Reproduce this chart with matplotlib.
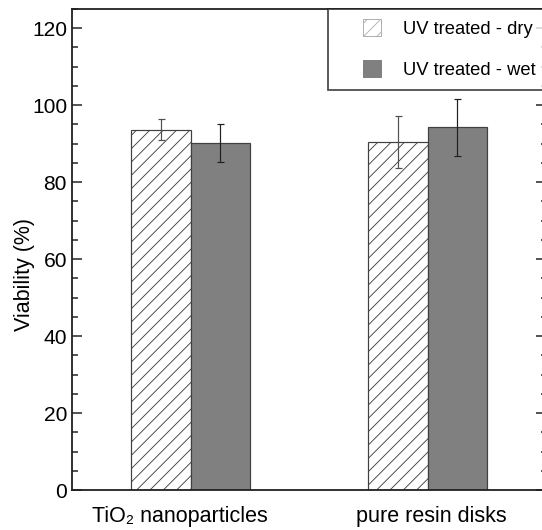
import matplotlib
matplotlib.use("Agg")
import matplotlib.pyplot as plt
from matplotlib.patches import Patch, Rectangle
from matplotlib.legend_handler import HandlerPatch
from matplotlib.ticker import MultipleLocator
import numpy as np

categories = ['TiO\u2082 nanoparticles', 'pure resin disks']
series_names = ['UV treated - dry', 'UV treated - wet']
dry_values = [93.6, 90.5]
dry_errors = [2.7, 6.7]
wet_values = [90.2, 94.3]
wet_errors = [5.0, 7.4]

DPI = 80
plt.rcParams['font.family'] = ['Liberation Sans', 'DejaVu Sans']
plt.rcParams['hatch.linewidth'] = 0.8

def px(v):
    return v * 72.0 / DPI

fig = plt.figure(figsize=(542 / DPI, 530 / DPI), dpi=DPI)
ax = fig.add_axes([72 / 542, 1 - 490 / 530, 474 / 542, 481 / 530])

x = np.arange(len(categories))
w = 0.25
edge = '#404040'
ax.bar(x - w / 2, dry_values, w, facecolor='white', edgecolor=edge,
       hatch='//', linewidth=px(1.2), zorder=2)
ax.bar(x + w / 2, wet_values, w, facecolor='#808080', edgecolor=edge,
       linewidth=px(1.2), zorder=2)
ax.errorbar(x - w / 2, dry_values, yerr=dry_errors, fmt='none',
            ecolor='#505050', elinewidth=px(1.2), capsize=px(3.5),
            capthick=px(1.2), zorder=3)
ax.errorbar(x + w / 2, wet_values, yerr=wet_errors, fmt='none',
            ecolor='#202020', elinewidth=px(1.2), capsize=px(3.5),
            capthick=px(1.2), zorder=3)

ax.set_xlim(-0.5, 1.5)
ax.set_ylim(0, 125)
ax.yaxis.set_major_locator(MultipleLocator(20))
ax.yaxis.set_minor_locator(MultipleLocator(5))
ax.set_yticks([0, 20, 40, 60, 80, 100, 120])

label_pos = [-0.045, 1.015]
ax.set_xticks(label_pos)
ax.set_xticklabels(categories)
ax.tick_params(axis='x', length=0, pad=px(16), labelsize=px(21.5), colors='black')
ax.tick_params(axis='y', which='major', direction='in', length=px(10),
               width=px(1.5), left=True, right=True, labelsize=px(21),
               pad=px(5), color='#202020')
ax.tick_params(axis='y', which='minor', direction='in', length=px(5.5),
               width=px(1.5), left=True, right=True, color='#202020')

for s in ax.spines.values():
    s.set_linewidth(px(1.8))
    s.set_color('#202020')

ax.set_ylabel('Viability (%)', fontsize=px(21.5))
ax.yaxis.set_label_coords(-0.078, 0.447)


class SquareHandler(HandlerPatch):
    def __init__(self, sq_w, sq_h, **kw):
        self.sq_w = sq_w
        self.sq_h = sq_h
        super().__init__(**kw)

    def create_artists(self, legend, orig_handle, xdescent, ydescent, width,
                       height, fontsize, trans):
        sw = self.sq_w * 72.0 / DPI
        sh = self.sq_h * 72.0 / DPI
        x0 = -xdescent + width - sw
        y0 = -ydescent + (height - sh) / 2
        p = Rectangle((x0, y0), sw, sh)
        p.update_from(orig_handle)
        p.set_transform(trans)
        return [p]


h_dry = Patch(facecolor='white', edgecolor='#b0b0b0', hatch='//', linewidth=px(1))
h_wet = Patch(facecolor='#808080', edgecolor='#808080', linewidth=px(1))
fs = px(18.4)
leg = ax.legend([h_dry, h_wet], series_names, loc='upper left',
                bbox_to_anchor=(328 / 542, 1 - 9 / 530),
                bbox_transform=fig.transFigure, fontsize=fs,
                frameon=True, fancybox=False, borderpad=0.6,
                borderaxespad=0, handlelength=(18 + 24) / 18.4,
                handleheight=0.95, handletextpad=1.2, labelspacing=1.22,
                handler_map={Patch: SquareHandler(18, 17)})
leg.get_frame().set_edgecolor('#202020')
leg.get_frame().set_linewidth(px(1.8))
leg.set_zorder(5)

fig.savefig('out.png', dpi=DPI)
